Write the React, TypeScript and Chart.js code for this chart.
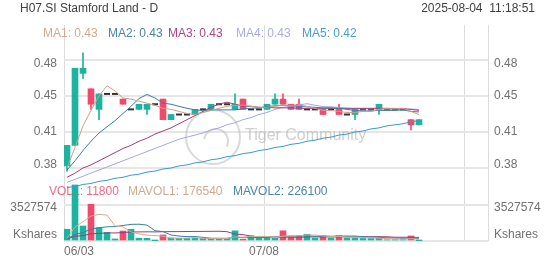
import React, { useEffect, useRef } from 'react';
import { Chart, registerables } from 'chart.js';

Chart.register(...registerables);

// ---------- data ----------
const title = 'H07.SI Stamford Land - D';
const stamp = '2025-08-04  11:18:51';
const watermark = 'Tiger Community';

const dates = [
  '06/03', '06/04', '06/05', '06/06', '06/09', '06/10', '06/11', '06/12', '06/13', '06/16',
  '06/17', '06/18', '06/19', '06/20', '06/23', '06/24', '06/25', '06/26', '06/27', '06/30',
  '07/01', '07/02', '07/03', '07/04', '07/07', '07/08', '07/09', '07/10', '07/11', '07/14',
  '07/15', '07/16', '07/17', '07/18', '07/21', '07/22', '07/23', '07/24', '07/25', '07/28',
  '07/29', '07/30', '07/31', '08/01', '08/04',
];
const shownDates = ['06/03', '07/08'];
const gridDateIndex = [0, 25, 50, 53];

const opens = [
  0.38, 0.40, 0.47, 0.455, 0.435, 0.45, 0.45, 0.445, 0.435, 0.435,
  0.435, 0.44, 0.445, 0.425, 0.43, 0.43, 0.43, 0.435, 0.435, 0.44,
  0.44, 0.435, 0.445, 0.435, 0.435, 0.435, 0.44, 0.445, 0.44, 0.44,
  0.435, 0.435, 0.435, 0.435, 0.435, 0.43, 0.43, 0.435, 0.435, 0.435,
  0.435, 0.435, 0.435, 0.425, 0.42,
];
const highs = [
  0.40, 0.475, 0.49, 0.455, 0.45, 0.45, 0.45, 0.445, 0.435, 0.44,
  0.44, 0.44, 0.445, 0.43, 0.43, 0.43, 0.435, 0.435, 0.44, 0.44,
  0.44, 0.45, 0.445, 0.435, 0.435, 0.44, 0.45, 0.45, 0.44, 0.445,
  0.435, 0.435, 0.435, 0.435, 0.44, 0.43, 0.435, 0.435, 0.435, 0.44,
  0.435, 0.435, 0.435, 0.425, 0.425,
];
const lows = [
  0.375, 0.40, 0.465, 0.435, 0.425, 0.45, 0.45, 0.44, 0.435, 0.435,
  0.43, 0.44, 0.425, 0.425, 0.43, 0.43, 0.43, 0.435, 0.435, 0.44,
  0.44, 0.435, 0.435, 0.435, 0.435, 0.435, 0.44, 0.44, 0.435, 0.435,
  0.435, 0.435, 0.43, 0.435, 0.43, 0.43, 0.425, 0.435, 0.435, 0.43,
  0.435, 0.435, 0.435, 0.415, 0.42,
];
const closes = [
  0.40, 0.475, 0.475, 0.44, 0.45, 0.45, 0.45, 0.44, 0.435, 0.44,
  0.44, 0.44, 0.425, 0.43, 0.43, 0.43, 0.435, 0.435, 0.44, 0.44,
  0.44, 0.44, 0.435, 0.435, 0.435, 0.44, 0.445, 0.44, 0.435, 0.435,
  0.435, 0.435, 0.43, 0.435, 0.43, 0.43, 0.435, 0.435, 0.435, 0.44,
  0.435, 0.435, 0.435, 0.42, 0.425,
];
const ma1 = [
  0.378, 0.398, 0.419, 0.434, 0.448, 0.458, 0.453, 0.446, 0.445, 0.443,
  0.441, 0.439, 0.436, 0.435, 0.433, 0.431, 0.430, 0.432, 0.434, 0.436,
  0.438, 0.439, 0.439, 0.438, 0.437, 0.437, 0.438, 0.439, 0.439, 0.439,
  0.438, 0.436, 0.434, 0.434, 0.433, 0.432, 0.432, 0.433, 0.433, 0.435,
  0.436, 0.436, 0.436, 0.433, 0.430,
];
const ma2 = [
  0.376, 0.385, 0.395, 0.404, 0.412, 0.418, 0.424, 0.431, 0.438, 0.4455,
  0.4495, 0.446, 0.441, 0.440, 0.438, 0.436, 0.4345, 0.434, 0.4345, 0.4345,
  0.4345, 0.4345, 0.4355, 0.436, 0.4365, 0.4375, 0.4385, 0.439, 0.4385, 0.438,
  0.4375, 0.437, 0.4365, 0.4365, 0.436, 0.435, 0.434, 0.4335, 0.4335, 0.434,
  0.434, 0.434, 0.4345, 0.433, 0.4325,
];
const ma3 = [
  0.369, 0.373, 0.378, 0.381, 0.385, 0.389, 0.393, 0.397, 0.400, 0.404,
  0.407, 0.411, 0.414, 0.417, 0.421, 0.425, 0.429, 0.433, 0.437, 0.440,
  0.442, 0.440, 0.438, 0.438, 0.437, 0.437, 0.4365, 0.4365, 0.4365, 0.436,
  0.436, 0.436, 0.436, 0.436, 0.436, 0.436, 0.436, 0.436, 0.436, 0.436,
  0.436, 0.4355, 0.4355, 0.435, 0.434,
];
const ma4 = [
  0.364, 0.367, 0.370, 0.373, 0.376, 0.379, 0.382, 0.385, 0.388, 0.391,
  0.394, 0.397, 0.400, 0.403, 0.406, 0.408, 0.410, 0.412, 0.415, 0.417,
  0.420, 0.422, 0.425, 0.427, 0.430, 0.432, 0.435, 0.437, 0.438, 0.4393,
  0.4405, 0.439, 0.4377, 0.4375, 0.4368, 0.4362, 0.4357, 0.4355, 0.4355, 0.4355,
  0.4353, 0.4352, 0.4355, 0.4352, 0.435,
];
const ma5 = [
  0.359, 0.360, 0.362, 0.363, 0.365, 0.366, 0.368, 0.369, 0.371, 0.372,
  0.374, 0.375, 0.377, 0.378, 0.380, 0.381, 0.383, 0.384, 0.386, 0.387,
  0.389, 0.390, 0.392, 0.393, 0.395, 0.396, 0.398, 0.399, 0.401, 0.402,
  0.404, 0.405, 0.407, 0.408, 0.410, 0.411, 0.413, 0.414, 0.416, 0.417,
  0.419, 0.420, 0.421, 0.423, 0.424,
];
const volumes = [
  1150000, 5490000, 1470000, 3600000, 1300000, 850000, 200000, 980000, 1150000, 260000,
  260000, 20000, 590000, 290000, 260000, 260000, 260000, 240000, 250000, 240000,
  250000, 1000000, 170000, 520000, 290000, 290000, 290000, 1000000, 500000, 500000,
  660000, 290000, 500000, 290000, 520000, 300000, 310000, 250000, 240000, 278200,
  121000, 130000, 130000, 490000, 11800,
];
const mavol1 = [
  270000, 1360000, 1900000, 2450000, 2602000, 2542000, 1484000, 1386000, 896000, 688000,
  570000, 534000, 456000, 284000, 284000, 284000, 332000, 262000, 254000, 250000,
  248000, 396000, 382000, 436000, 446000, 454000, 312000, 478000, 474000, 516000,
  590000, 590000, 490000, 448000, 452000, 380000, 384000, 334000, 324000, 275600,
  239800, 203800, 179800, 229800, 176540,
];
const mavol2 = [
  170000, 660000, 820000, 1170000, 1300000, 1390000, 1410000, 1520000, 1630000, 1645000,
  1556000, 1009000, 921000, 590000, 486000, 427000, 433000, 359000, 269000, 267000,
  266000, 364000, 322000, 345000, 348000, 351000, 354000, 430000, 455000, 481000,
  522000, 451000, 484000, 461000, 484000, 485000, 487000, 412000, 386000, 364000,
  310000, 294000, 257000, 277000, 226100,
];
const mavol3 = [
  200000, 460000, 530000, 700000, 750000, 790000, 790000, 830000, 880000, 890000,
  900000, 890000, 910000, 920000, 920000, 930000, 940000, 940000, 950000, 956000,
  911000, 687000, 622000, 468000, 417000, 389000, 394000, 395000, 362000, 374000,
  394000, 408000, 403000, 403000, 416000, 418000, 420000, 421000, 420000, 422000,
  416000, 372000, 370000, 369000, 355000,
];

const priceTicks = [0.378, 0.413, 0.448, 0.483];
const priceTickLabels = ['0.38', '0.41', '0.45', '0.48'];
const volTicks = [0, 3527574];
const volTickLabels = ['Kshares', '3527574'];

const maNames = ['MA1', 'MA2', 'MA3', 'MA4', 'MA5'];
const maLast = ['0.43', '0.43', '0.43', '0.43', '0.42'];
const volNames = ['VOL1', 'MAVOL1', 'MAVOL2'];
const volLast = ['11800', '176540', '226100'];

// ---------- styles / layout ----------
const UP = '#1cb3a0';
const DOWN = '#f2486c';
const FLAT = '#333333';
const MA_COLORS = ['#cf9f82', '#3b7ea1', '#a23f78', '#a3a6e6', '#3a9ad0'];
const MA_TEXT = ['#d2a98e', '#4a86a8', '#ab4683', '#a9ace8', '#4a9ccf'];
const VOL_LINE_COLORS = ['#cfae92', '#3b7ea1', '#9e3c78'];
const VOL_TEXT = ['#ee6c80', '#cdab90', '#4a86a8'];
const FONT = '12px "Liberation Sans", Arial, sans-serif';
const W = 552;
const H = 265;
const TOP = 25;
const BOTTOM = 241;
const LEFT = 64;
const RIGHT = 488;
const SLOT_OFFSET = 0.375;
const PRICE_TOP_PX = 60;
const PRICE_BOTTOM_PX = 168;
const VOL_GRID_PX = 205;
const MA_LEGEND_X = [43, 108, 168, 236, 302];
const VOL_LEGEND_X = [49, 128, 233];

const pxPerPrice =
  (PRICE_BOTTOM_PX - PRICE_TOP_PX) / (priceTicks[priceTicks.length - 1] - priceTicks[0]);
const PMAX = priceTicks[priceTicks.length - 1] + (PRICE_TOP_PX - TOP) / pxPerPrice;
const PMIN = priceTicks[0] - (BOTTOM - PRICE_BOTTOM_PX) / pxPerPrice;
const VMAX = (volTicks[1] * (BOTTOM - TOP)) / (BOTTOM - VOL_GRID_PX);

function candleColor(i: number) {
  if (closes[i] > opens[i]) return UP;
  if (closes[i] < opens[i]) return DOWN;
  return FLAT;
}

export default function App() {
  const ref = useRef<HTMLCanvasElement>(null);

  useEffect(() => {
    document.body.style.margin = '0';
    const canvas = ref.current;
    if (!canvas) return;

    const idx = dates.map((_, i) => i);
    const bodyIdx = idx.filter((i) => opens[i] !== closes[i]);
    const wickIdx = idx.filter((i) => highs[i] > lows[i]);
    const flatIdx = idx.filter((i) => opens[i] === closes[i]);

    const lineDs = (vals: number[], color: string, yAxisID: string) => ({
      type: 'line' as const,
      data: vals.map((v, i) => ({ x: i, y: v })),
      borderColor: color,
      borderWidth: 1,
      pointRadius: 0,
      tension: 0,
      yAxisID,
      order: 0,
    });

    const overlay = {
      id: 'overlay',
      beforeDatasetsDraw(chart: any) {
        const ctx = chart.ctx as CanvasRenderingContext2D;
        ctx.save();
        // watermark
        ctx.strokeStyle = 'rgba(185,185,185,0.55)';
        ctx.lineWidth = 2;
        ctx.beginPath();
        ctx.arc(213, 137, 27, 0, Math.PI * 2);
        ctx.stroke();
        ctx.beginPath();
        ctx.arc(216, 141, 12, Math.PI * 1.05, Math.PI * 2.15);
        ctx.stroke();
        ctx.font = '16px "Liberation Sans", Arial, sans-serif';
        ctx.fillStyle = 'rgba(175,175,175,0.6)';
        ctx.textAlign = 'left';
        ctx.textBaseline = 'alphabetic';
        ctx.fillText(watermark, 245, 140);
        // volume legend (drawn under the bars)
        ctx.font = FONT;
        ctx.textBaseline = 'middle';
        volNames.forEach((n, i) => {
          ctx.fillStyle = VOL_TEXT[i];
          ctx.fillText(`${n}: ${volLast[i]}`, VOL_LEGEND_X[i], 191.5);
        });
        ctx.restore();
      },
      afterDraw(chart: any) {
        const ctx = chart.ctx as CanvasRenderingContext2D;
        const yP = chart.scales.yP;
        const yV = chart.scales.yV;
        const xs = chart.scales.x;
        ctx.save();
        ctx.font = FONT;
        ctx.textBaseline = 'middle';
        // header
        ctx.fillStyle = '#404040';
        ctx.textAlign = 'left';
        ctx.fillText(title, 20, 8.5);
        ctx.textAlign = 'right';
        ctx.fillText(stamp, 535, 8.5);
        // MA legend
        ctx.textAlign = 'left';
        maNames.forEach((n, i) => {
          ctx.fillStyle = MA_TEXT[i];
          ctx.fillText(`${n}: ${maLast[i]}`, MA_LEGEND_X[i], 34);
        });
        // price labels
        ctx.fillStyle = '#707070';
        priceTicks.forEach((v, i) => {
          let y = yP.getPixelForValue(v);
          if (i === 0) y -= 3;
          if (i === priceTicks.length - 1) y += 3.5;
          ctx.textAlign = 'right';
          ctx.fillText(priceTickLabels[i], 57, y);
          ctx.textAlign = 'left';
          ctx.fillText(priceTickLabels[i], 494, y);
        });
        // volume labels
        volTicks.forEach((v, i) => {
          let y = yV.getPixelForValue(v);
          y += i === 0 ? -6 : 2.5;
          ctx.textAlign = 'right';
          ctx.fillText(volTickLabels[i], 57, y);
          ctx.textAlign = 'left';
          ctx.fillText(volTickLabels[i], 494, y);
        });
        // date labels
        ctx.textAlign = 'left';
        shownDates.forEach((d) => {
          const i = dates.indexOf(d);
          const px = xs.getPixelForValue(i - SLOT_OFFSET);
          const w = ctx.measureText(d).width;
          const left = Math.max(px - w / 2, chart.chartArea.left);
          ctx.fillText(d, left, 251.5);
        });
        ctx.restore();
      },
    };

    const chart = new Chart(canvas, {
      data: {
        datasets: [
          ...[ma1, ma2, ma3, ma4, ma5].map((m, k) => lineDs(m, MA_COLORS[k], 'yP')),
          ...[mavol1, mavol2, mavol3].map((m, k) => lineDs(m, VOL_LINE_COLORS[k], 'yV')),
          {
            type: 'line' as const,
            data: flatIdx.map((i) => ({ x: i, y: closes[i] })),
            showLine: false,
            pointStyle: 'line',
            pointRadius: 3,
            pointBorderWidth: 2,
            pointBorderColor: FLAT,
            pointBackgroundColor: FLAT,
            yAxisID: 'yP',
            order: 1,
          },
          {
            type: 'bar' as const,
            data: bodyIdx.map((i) => ({ x: i, y: [opens[i], closes[i]] })),
            backgroundColor: bodyIdx.map((i) => candleColor(i)),
            barThickness: 6,
            grouped: false,
            borderWidth: 0,
            yAxisID: 'yP',
            order: 2,
          },
          {
            type: 'bar' as const,
            data: wickIdx.map((i) => ({ x: i, y: [lows[i], highs[i]] })),
            backgroundColor: wickIdx.map((i) => candleColor(i)),
            barThickness: 1,
            grouped: false,
            borderWidth: 0,
            yAxisID: 'yP',
            order: 3,
          },
          {
            type: 'bar' as const,
            data: volumes.map((v, i) => ({ x: i, y: v })),
            backgroundColor: idx.map((i) => (closes[i] >= opens[i] ? UP : DOWN)),
            barThickness: 6,
            grouped: false,
            borderWidth: 0,
            yAxisID: 'yV',
            order: 3,
          },
        ] as any,
      },
      options: {
        animation: false,
        responsive: false,
        devicePixelRatio: 1,
        events: [],
        layout: { padding: { top: TOP, left: 0, right: 0, bottom: 0 } },
        plugins: { legend: { display: false }, tooltip: { enabled: false } },
        scales: {
          x: {
            type: 'linear',
            min: -SLOT_OFFSET,
            max: (RIGHT - LEFT) / 8 - SLOT_OFFSET,
            offset: false,
            afterBuildTicks: (s: any) => {
              s.ticks = gridDateIndex.map((i) => ({ value: i - SLOT_OFFSET }));
            },
            afterFit: (s: any) => {
              s.height = H - BOTTOM;
            },
            ticks: { display: false },
            grid: { color: '#dcdcdc', lineWidth: 1, drawTicks: false, offset: false },
            border: { display: false },
          },
          yP: {
            type: 'linear',
            position: 'left',
            min: PMIN,
            max: PMAX,
            afterBuildTicks: (s: any) => {
              s.ticks = priceTicks.map((v) => ({ value: v }));
            },
            afterFit: (s: any) => {
              s.width = LEFT;
            },
            ticks: { display: false },
            grid: { color: '#e6e6e6', lineWidth: 2, drawTicks: false },
            border: { display: false },
          },
          yV: {
            type: 'linear',
            position: 'right',
            min: 0,
            max: VMAX,
            afterBuildTicks: (s: any) => {
              s.ticks = volTicks.map((v) => ({ value: v }));
            },
            afterFit: (s: any) => {
              s.width = W - RIGHT;
            },
            ticks: { display: false },
            grid: { color: '#e6e6e6', lineWidth: 2, drawTicks: false },
            border: { display: false },
          },
        },
      } as any,
      plugins: [overlay],
    });

    return () => chart.destroy();
  }, []);

  return (
    <div style={{ width: W, height: H, overflow: 'hidden', background: '#fff' }}>
      <canvas ref={ref} width={W} height={H} style={{ display: 'block' }} />
    </div>
  );
}
